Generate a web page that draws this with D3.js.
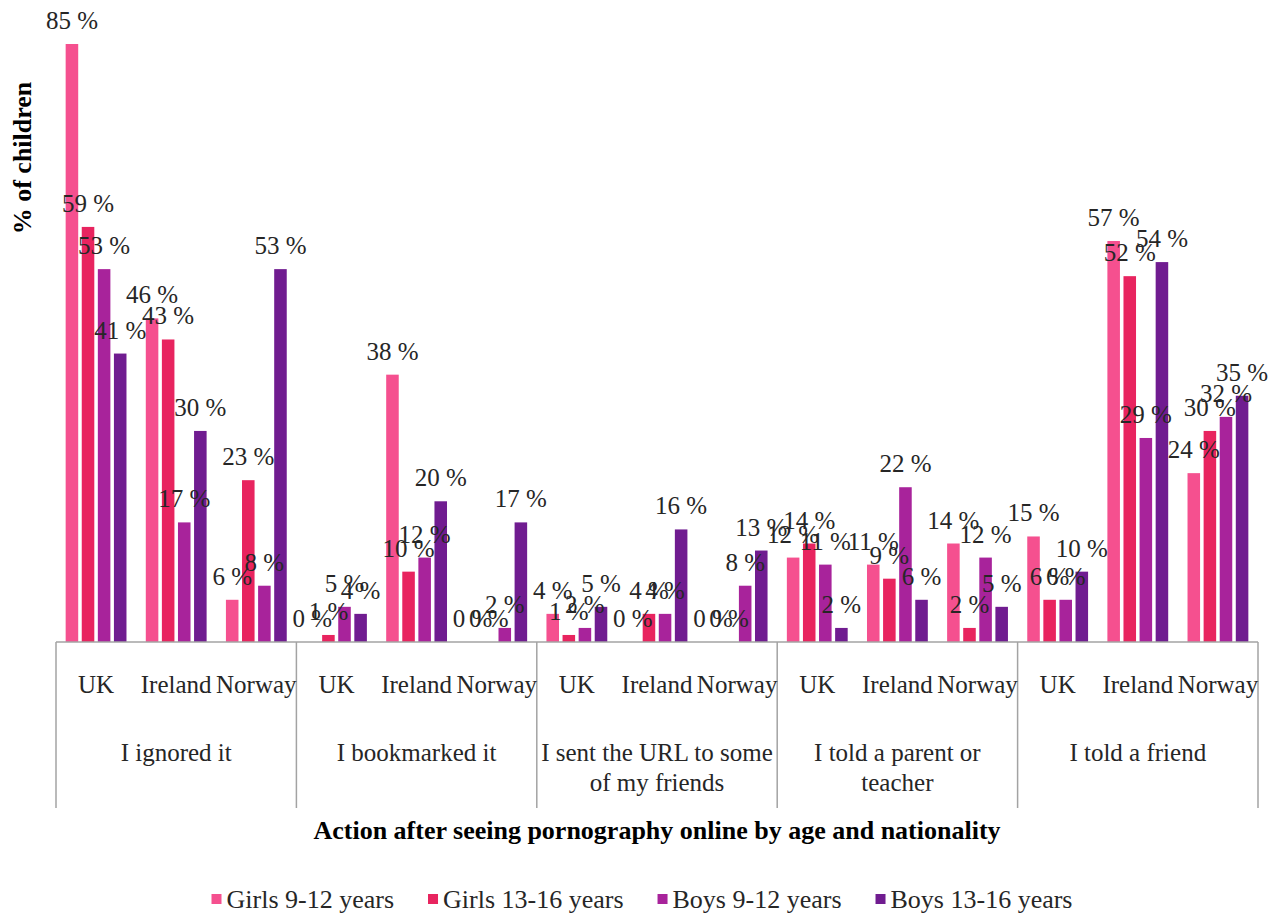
<!DOCTYPE html>
<html>
<head>
<meta charset="utf-8">
<script src="https://cdn.jsdelivr.net/npm/d3@7"></script>
<style>
  html, body { margin: 0; padding: 0; background: #ffffff; }
  svg { display: block; }
</style>
</head>
<body>
<svg id="chart" width="1280" height="913"></svg>
<script>
// Actions taken after seeing pornography online, by age group and country (% of children)
const categories = [
  "I ignored it",
  "I bookmarked it",
  "I sent the URL to some\nof my friends",
  "I told a parent or\nteacher",
  "I told a friend"
];
const countries = ["UK", "Ireland", "Norway"];
const seriesNames = ["Girls 9-12 years", "Girls 13-16 years", "Boys 9-12 years", "Boys 13-16 years"];

// One value per category × country, in the order UK, Ireland, Norway for each category
const girls9to12  = [85, 46, 6,   0, 38, 0,   4, 0, 0,   12, 11, 14,   15, 57, 24];
const girls13to16 = [59, 43, 23,  1, 10, 0,   1, 4, 0,   14, 9, 2,     6, 52, 30];
const boys9to12   = [53, 17, 8,   5, 12, 2,   2, 4, 8,   11, 22, 12,   6, 29, 32];
const boys13to16  = [41, 30, 53,  4, 20, 17,  5, 16, 13, 2, 6, 5,      10, 54, 35];

const seriesValues = [girls9to12, girls13to16, boys9to12, boys13to16];
const colors = ["#f5508f", "#e8245f", "#a8239b", "#701c90"];

const yTitle = "% of children";
const xTitle = "Action after seeing pornography online by age and nationality";

const svg = d3.select("#chart");
const font = "'Liberation Serif', 'Times New Roman', serif";
const textColor = "#262626";
const axisColor = "#a3a3a3";

const plotLeft = 56, plotRight = 1258, baseY = 642, topY = 44;

const xGroup = d3.scaleBand().domain(categories).range([plotLeft, plotRight]);
const xCountry = d3.scaleBand().domain(countries).range([0, xGroup.bandwidth()]);
const xSeries = d3.scaleBand().domain(seriesNames).range([0, xCountry.bandwidth()])
  .paddingInner(0.22).paddingOuter(0.6);
const y = d3.scaleLinear().domain([0, 85]).range([baseY, topY]);

// Flatten into bar records
const bars = [];
categories.forEach((cat, ci) => {
  countries.forEach((co, ki) => {
    seriesNames.forEach((s, si) => {
      bars.push({ cat, co, s, si, v: seriesValues[si][ci * countries.length + ki] });
    });
  });
});
const barX = d => xGroup(d.cat) + xCountry(d.co) + xSeries(d.s);

// Bars
svg.append("g").selectAll("rect").data(bars).join("rect")
  .attr("x", barX)
  .attr("y", d => y(d.v))
  .attr("width", xSeries.bandwidth())
  .attr("height", d => y(0) - y(d.v))
  .attr("fill", d => colors[d.si]);

// Category axis: baseline plus group separators
const axisG = svg.append("g").attr("stroke", axisColor).attr("stroke-width", 1.5);
axisG.append("line")
  .attr("x1", plotLeft).attr("x2", plotRight)
  .attr("y1", baseY).attr("y2", baseY);
const boundaries = categories.map(c => xGroup(c)).concat([plotRight]);
axisG.selectAll("line.sep").data(boundaries).join("line")
  .attr("class", "sep")
  .attr("x1", d => d).attr("x2", d => d)
  .attr("y1", baseY).attr("y2", 808);

// Country labels
const countryLabels = [];
categories.forEach(cat => countries.forEach(co => countryLabels.push({ cat, co })));
svg.append("g").selectAll("text").data(countryLabels).join("text")
  .attr("x", d => xGroup(d.cat) + xCountry(d.co) + xCountry.bandwidth() / 2)
  .attr("y", 693)
  .attr("text-anchor", "middle")
  .attr("font-family", font).attr("font-size", 25).attr("fill", textColor)
  .text(d => d.co);

// Category labels (may span two lines)
const catText = svg.append("g").selectAll("text").data(categories).join("text")
  .attr("x", d => xGroup(d) + xGroup.bandwidth() / 2)
  .attr("y", 761)
  .attr("text-anchor", "middle")
  .attr("font-family", font).attr("font-size", 25).attr("fill", textColor);
catText.each(function (d) {
  const t = d3.select(this);
  d.split("\n").forEach((line, i) => {
    t.append("tspan")
      .attr("x", xGroup(d) + xGroup.bandwidth() / 2)
      .attr("dy", i === 0 ? 0 : 30)
      .text(line);
  });
});

// Value labels
svg.append("g").selectAll("text").data(bars).join("text")
  .attr("x", d => barX(d) + xSeries.bandwidth() / 2)
  .attr("y", d => y(d.v) - 15)
  .attr("text-anchor", "middle")
  .attr("font-family", font).attr("font-size", 25).attr("fill", textColor)
  .text(d => d.v + " %");

// Axis titles
svg.append("text")
  .attr("transform", "translate(31,158) rotate(-90)")
  .attr("text-anchor", "middle")
  .attr("font-family", font).attr("font-size", 26).attr("font-weight", "bold")
  .attr("fill", "#000")
  .text(yTitle);

svg.append("text")
  .attr("x", (plotLeft + plotRight) / 2)
  .attr("y", 839)
  .attr("text-anchor", "middle")
  .attr("font-family", font).attr("font-size", 26).attr("font-weight", "bold")
  .attr("fill", "#000")
  .text(xTitle);

// Legend
const legend = svg.append("g");
const items = legend.selectAll("g").data(seriesNames).join("g");
items.append("rect")
  .attr("width", 10).attr("height", 10)
  .attr("y", 894)
  .attr("fill", (d, i) => colors[i]);
items.append("text")
  .attr("x", 15).attr("y", 908)
  .attr("font-family", font).attr("font-size", 26).attr("fill", textColor)
  .text(d => d);
let cursor = 0;
const gap = 34;
items.each(function () {
  const g = d3.select(this);
  g.attr("transform", `translate(${cursor},0)`);
  cursor += 15 + g.select("text").node().getComputedTextLength() + gap;
});
const legendWidth = cursor - gap;
legend.attr("transform", `translate(${642 - legendWidth / 2},0)`);
</script>
</body>
</html>
